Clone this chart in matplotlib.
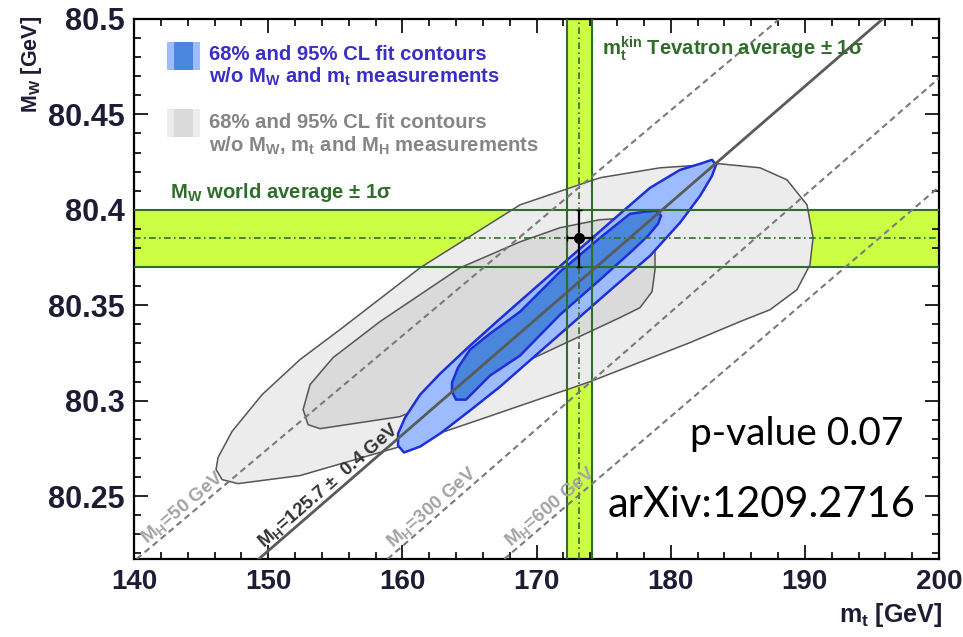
import numpy as np
import matplotlib
matplotlib.use('Agg')
import matplotlib.pyplot as plt
from matplotlib.patches import Polygon, Rectangle
from matplotlib.ticker import MultipleLocator, FuncFormatter

plt.rcParams['mathtext.fontset'] = 'custom'
plt.rcParams['mathtext.rm'] = 'Liberation Sans:bold'
plt.rcParams['mathtext.it'] = 'Liberation Sans:bold'
plt.rcParams['mathtext.bf'] = 'Liberation Sans:bold'
plt.rcParams['mathtext.default'] = 'rm'
plt.rcParams['font.family'] = ['Liberation Sans', 'DejaVu Sans']

# axis ranges
MT_RANGE = (140, 200)
MW_RANGE = (80.217, 80.5)

# world averages
MW_AVG, MW_ERR = 80.385, 0.015
MT_AVG, MT_ERR = 173.18, 0.94

# fit contours without MW, mt, MH  (mt, MW)
gray95_mt = [146.11, 146.56, 147.75, 152.37, 159.83, 165.79, 173.99, 181.44, 185.17,
             187.40, 189.41, 190.38, 190.61, 190.16, 188.67, 186.66, 183.68, 179.20,
             174.73, 168.77, 161.32, 155.35, 152.37, 149.54, 147.30, 146.26]
gray95_mw = [80.2639, 80.2586, 80.2565, 80.2607, 80.2759, 80.2901, 80.3099, 80.3304, 80.3414,
             80.3476, 80.3581, 80.3712, 80.3853, 80.4026, 80.4157, 80.4220, 80.4241, 80.4220,
             80.4168, 80.4026, 80.3696, 80.3372, 80.3215, 80.3031, 80.2838, 80.2702]
gray68_mt = [152.60, 152.97, 153.86, 159.83, 168.25, 176.22, 177.71, 178.61, 178.83,
             178.83, 178.46, 176.97, 174.73, 171.75, 168.77, 164.30, 158.33, 154.83, 153.12]
gray68_mw = [80.2953, 80.2874, 80.2853, 80.2916, 80.3173, 80.3435, 80.3487, 80.3571, 80.3686,
             80.3869, 80.3937, 80.3958, 80.3948, 80.3906, 80.3832, 80.3696, 80.3414, 80.3225, 80.3084]

# fit contours without MW, mt
blue95_mt = [159.68, 160.12, 161.32, 162.81, 165.04, 167.28, 170.26, 173.24, 176.22, 178.46,
             180.69, 182.19, 183.08, 183.38, 183.08, 182.19, 180.69, 178.46, 176.22, 173.24,
             170.26, 167.28, 165.04, 162.81, 161.32, 160.20, 159.68]
blue95_mw = [80.2764, 80.2728, 80.2759, 80.2827, 80.2948, 80.3073, 80.3257, 80.3440, 80.3623, 80.3759,
             80.3932, 80.4073, 80.4178, 80.4236, 80.4262, 80.4241, 80.4209, 80.4115, 80.3979, 80.3796,
             80.3613, 80.3429, 80.3288, 80.3141, 80.3031, 80.2911, 80.2827]
blue68_mt = [163.70, 164.00, 164.74, 166.53, 168.77, 171.75, 174.73, 176.97, 178.31, 179.06,
             179.28, 178.91, 178.09, 176.97, 174.73, 171.75, 168.77, 166.53, 165.04, 164.15, 163.70]
blue68_mw = [80.3047, 80.3005, 80.3005, 80.3131, 80.3236, 80.3450, 80.3634, 80.3775, 80.3864, 80.3927,
             80.3969, 80.3995, 80.3990, 80.3979, 80.3853, 80.3675, 80.3466, 80.3351, 80.3267, 80.3173, 80.3094]

# SM lines for fixed MH: two points (mt, MW) on each
mh_labels = ['50', '125.7', '300', '600']
mh_p1 = [(140.2, 80.217), (149.3, 80.217), (158.9, 80.217), (167.6, 80.217)]
mh_p2 = [(188.1, 80.5), (195.8, 80.5), (200.0, 80.469), (200.0, 80.412)]
mh_label_mt = [141.2, 149.9, 159.5, 168.3]

BAND = '#ccff44'
GREEN = '#2f6e2a'


def main():
    fig = plt.figure(figsize=(9.63, 6.37), dpi=100)
    ax = fig.add_axes([0.1392, 0.1225, 0.8359, 0.8477])
    ax.set_xlim(*MT_RANGE)
    ax.set_ylim(*MW_RANGE)

    # 1 sigma bands of the direct measurements
    ax.axhspan(MW_AVG - MW_ERR, MW_AVG + MW_ERR, color=BAND, lw=0, zorder=1)
    ax.axvspan(MT_AVG - MT_ERR, MT_AVG + MT_ERR, color=BAND, lw=0, zorder=1)

    # contours
    for mt, mw, fc in [(gray95_mt, gray95_mw, '#ececec'), (gray68_mt, gray68_mw, '#dadada')]:
        ax.add_patch(Polygon(np.column_stack([mt, mw]), closed=True, fc=fc,
                             ec='#555555', lw=1.1, joinstyle='round', zorder=2))
    for mt, mw, fc in [(blue95_mt, blue95_mw, '#9dbcff'), (blue68_mt, blue68_mw, '#4a86dc')]:
        ax.add_patch(Polygon(np.column_stack([mt, mw]), closed=True, fc=fc,
                             ec='#1f2fd8', lw=1.8, joinstyle='round', zorder=3))

    # band edges and centres
    for y in (MW_AVG - MW_ERR, MW_AVG + MW_ERR):
        ax.axhline(y, color=GREEN, lw=1.5, zorder=4)
    for x in (MT_AVG - MT_ERR, MT_AVG + MT_ERR):
        ax.axvline(x, color=GREEN, lw=1.5, zorder=4)
    ax.axhline(MW_AVG, color=GREEN, lw=1.2, ls=(0, (4, 2, 1, 2)), zorder=4)
    ax.axvline(MT_AVG, color=GREEN, lw=1.2, ls=(0, (4, 2, 1, 2)), zorder=4)

    # MH lines
    for lab, p1, p2, lmt in zip(mh_labels, mh_p1, mh_p2, mh_label_mt):
        fixed = lab == '125.7'
        ax.axline(p1, p2, color='#5a5a5a' if fixed else '#7a7a7a',
                  lw=2.0 if fixed else 1.5, ls='-' if fixed else (0, (3, 2)), zorder=4)
        slope = (p2[1] - p1[1]) / (p2[0] - p1[0])
        ang = np.degrees(np.arctan2(p2[1] - p1[1], p2[0] - p1[0]))
        txt = r'$M_H$=125.7 ±  0.4 GeV' if fixed else r'$M_H$=' + lab + ' GeV'
        ax.text(lmt, p1[1] + slope * (lmt - p1[0]), txt, rotation=ang,
                transform_rotates_text=True, rotation_mode='anchor',
                ha='left', va='bottom', fontsize=13.5, fontweight='bold',
                color='#333333' if fixed else '#a3a3a3', zorder=5)

    ax.errorbar([MT_AVG], [MW_AVG], xerr=[MT_ERR], yerr=[MW_ERR], fmt='o', color='black',
                ms=7, elinewidth=1.6, capsize=2, zorder=6)

    # legend
    ax.add_patch(Rectangle((0.041, 0.9056), 0.041, 0.0519, transform=ax.transAxes,
                           fc='#9dbcff', ec='none', zorder=5))
    ax.add_patch(Rectangle((0.0497, 0.9056), 0.0236, 0.0519, transform=ax.transAxes,
                           fc='#4a86dc', ec='none', zorder=5))
    ax.add_patch(Rectangle((0.041, 0.7815), 0.041, 0.0519, transform=ax.transAxes,
                           fc='#ececec', ec='none', zorder=5))
    ax.add_patch(Rectangle((0.0497, 0.7815), 0.0236, 0.0519, transform=ax.transAxes,
                           fc='#dadada', ec='none', zorder=5))
    kw = dict(transform=ax.transAxes, fontsize=14.6, fontweight='bold', va='baseline', zorder=6)
    ax.text(0.0932, 0.924, '68% and 95% CL fit contours', color='#3a2ec4', **kw)
    ax.text(0.0932, 0.8815, r'w/o $M_W$ and $m_t$ measurements', color='#3a2ec4', **kw)
    ax.text(0.0932, 0.798, '68% and 95% CL fit contours', color='#858585', **kw)
    ax.text(0.0932, 0.7537, r'w/o $M_W$, $m_t$ and $M_H$ measurements', color='#858585', **kw)
    ax.text(0.0447, 0.6685, r'$M_W$ world average ± 1σ', color=GREEN, **kw)
    ax.text(0.5814, 0.9333, r'$m_t^{kin}$ Tevatron average ± 1σ', color=GREEN, **kw)

    ax.text(0.6907, 0.211, 'p-value 0.07', transform=ax.transAxes, fontsize=28,
            family='Lato', color='black', zorder=7)
    ax.text(0.588, 0.077, 'arXiv:1209.2716', transform=ax.transAxes, fontsize=30,
            family='Lato', color='black', zorder=7)

    # axes styling
    ax.xaxis.set_major_locator(MultipleLocator(10))
    ax.xaxis.set_minor_locator(MultipleLocator(2))
    ax.yaxis.set_major_locator(MultipleLocator(0.05))
    ax.yaxis.set_minor_locator(MultipleLocator(0.01))
    ax.yaxis.set_major_formatter(FuncFormatter(lambda v, p: '%g' % round(v, 3)))
    ax.tick_params(which='both', direction='in', top=True, right=True, width=1.2, colors='black')
    ax.tick_params(which='major', length=10)
    ax.tick_params(which='minor', length=5)
    ax.tick_params(axis='y', pad=7, labelsize=22, labelcolor='#1c1c34')
    ax.tick_params(axis='x', pad=7, labelsize=20, labelcolor='#1c1c34')
    for lab in ax.get_yticklabels():
        lab.set_fontweight('bold')
    for lab in ax.get_xticklabels():
        lab.set_fontweight('bold')
    for s in ax.spines.values():
        s.set_linewidth(1.6)

    fig.text(0.978, 0.012, r'$m_t$ [GeV]', ha='right', va='bottom', fontsize=18,
             fontweight='bold', color='#1c1c34')
    fig.text(0.02, 0.975, r'$M_W$ [GeV]', ha='left', va='top', rotation=90, fontsize=15.5,
             fontweight='bold', color='#1c1c34')

    fig.savefig('out.png', dpi=100)


if __name__ == '__main__':
    main()
